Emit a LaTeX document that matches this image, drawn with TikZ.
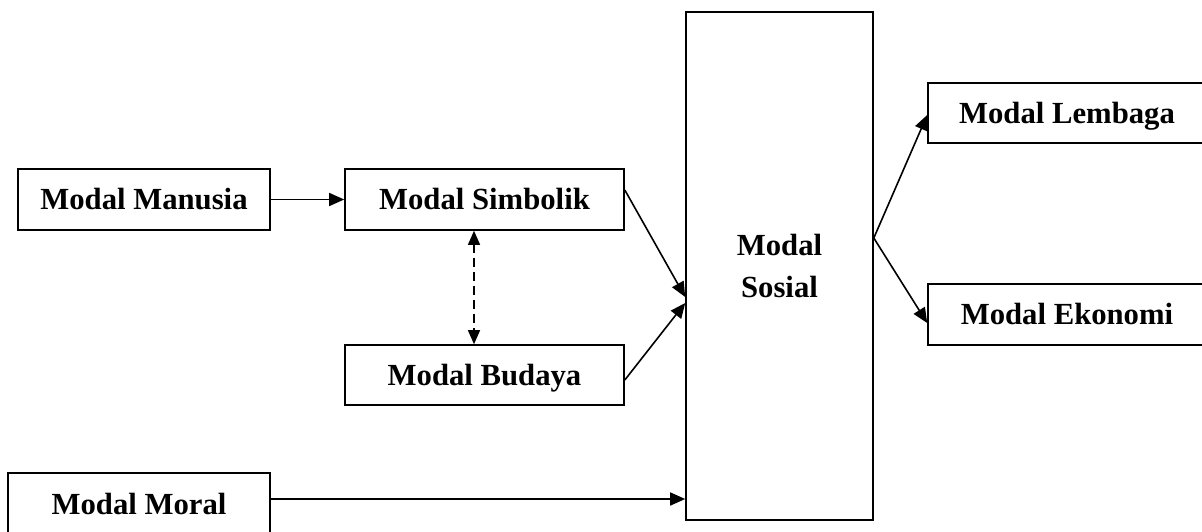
\documentclass[tikz,border=0pt]{standalone}
\usepackage{fontspec}
\setmainfont{Liberation Serif}
\usetikzlibrary{arrows.meta}
\begin{document}
\begin{tikzpicture}[x=1pt,y=-1pt,
  basebox/.style={draw, line width=1.6pt, inner sep=0pt, font=\fontsize{30.7}{42}\selectfont\bfseries},
  box/.style={basebox, text height=20.3pt, text depth=0pt},
  arr/.style={line width=1.6pt, -{Triangle[length=15pt,width=13pt]}},
  darr/.style={line width=1.3pt, dash pattern=on 9pt off 5pt, {Triangle[length=14pt,width=12pt]}-{Triangle[length=14pt,width=12pt]}}]
\useasboundingbox (0,0) rectangle (1202,532);
\clip (0,0) rectangle (1202,532);
\node[box, minimum width=252pt, minimum height=61pt] (man) at (144,199.5) {Modal Manusia};
\node[box, minimum width=279pt, minimum height=61pt] (simb) at (484.5,199.5) {Modal Simbolik};
\node[box, minimum width=279pt, minimum height=60pt] (bud) at (484.5,375) {Modal Budaya};
\node[box, minimum width=262pt, minimum height=62pt] (moral) at (139,504) {Modal Moral};
\node[basebox, align=center, minimum width=187pt, minimum height=508pt] (sos) at (779.5,266) {Modal\\Sosial};
\node[box, minimum width=278pt, minimum height=60pt] (lem) at (1067,113) {Modal Lembaga};
\node[box, minimum width=278pt, minimum height=61pt] (eko) at (1067,314.5) {Modal Ekonomi};
\draw[arr] (man.east) -- (simb.west);
\draw[arr] ([yshift=9.5pt]simb.east) -- ([yshift=-31pt]sos.west);
\draw[arr] ([yshift=-5pt]bud.east) -- ([yshift=-37pt]sos.west);
\draw[darr] ([xshift=-10.5pt]simb.south) -- ([xshift=-10.5pt]bud.north);
\draw[arr] ([yshift=5pt]moral.east) -- ([yshift=-233pt]sos.west);
\draw[arr] ([yshift=28pt]sos.east) -- ([yshift=-2pt]lem.west);
\draw[arr] ([yshift=28pt]sos.east) -- ([yshift=-8.5pt]eko.west);
\end{tikzpicture}
\end{document}
